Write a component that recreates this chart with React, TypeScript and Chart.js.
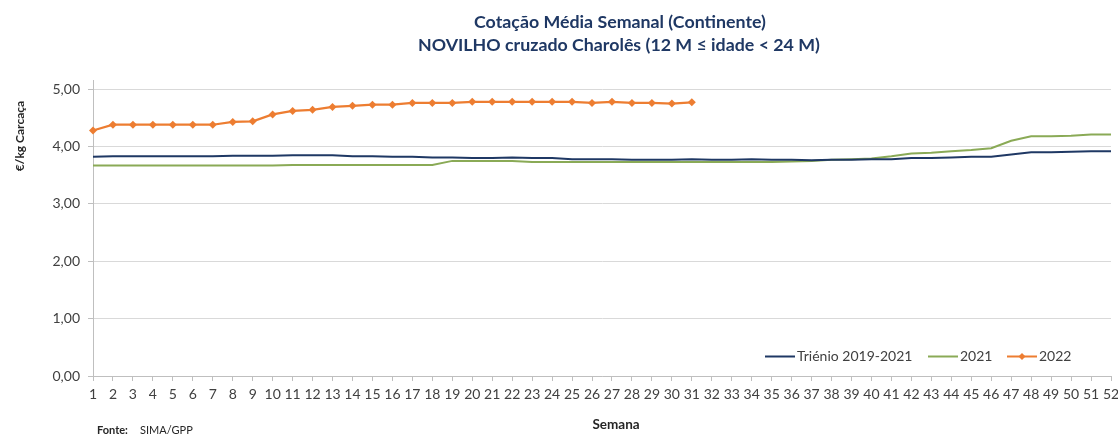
import React, { useEffect, useRef } from "react";
import { Chart, registerables } from "chart.js";

Chart.register(...registerables);

const FONT = "Lato, 'Open Sans', sans-serif";

const weeks = [
  "1", "2", "3", "4", "5", "6", "7", "8", "9", "10",
  "11", "12", "13", "14", "15", "16", "17", "18", "19", "20",
  "21", "22", "23", "24", "25", "26", "27", "28", "29", "30",
  "31", "32", "33", "34", "35", "36", "37", "38", "39", "40",
  "41", "42", "43", "44", "45", "46", "47", "48", "49", "50",
  "51", "52",
];

const trienio = [
  3.82, 3.83, 3.83, 3.83, 3.83, 3.83, 3.83, 3.84, 3.84, 3.84,
  3.85, 3.85, 3.85, 3.83, 3.83, 3.82, 3.82, 3.81, 3.81, 3.80,
  3.80, 3.81, 3.80, 3.80, 3.78, 3.78, 3.78, 3.77, 3.77, 3.77,
  3.78, 3.77, 3.77, 3.78, 3.77, 3.77, 3.76, 3.77, 3.77, 3.78,
  3.78, 3.80, 3.80, 3.81, 3.82, 3.82, 3.86, 3.90, 3.90, 3.91,
  3.92, 3.92,
];

const y2021 = [
  3.67, 3.67, 3.67, 3.67, 3.67, 3.67, 3.67, 3.67, 3.67, 3.67,
  3.68, 3.68, 3.68, 3.68, 3.68, 3.68, 3.68, 3.68, 3.75, 3.75,
  3.75, 3.75, 3.73, 3.73, 3.73, 3.73, 3.73, 3.73, 3.73, 3.73,
  3.73, 3.73, 3.73, 3.73, 3.73, 3.74, 3.75, 3.77, 3.78, 3.79,
  3.83, 3.88, 3.89, 3.92, 3.94, 3.97, 4.10, 4.18, 4.18, 4.19,
  4.21, 4.21,
];

const y2022 = [
  4.28, 4.38, 4.38, 4.38, 4.38, 4.38, 4.38, 4.43, 4.44, 4.56,
  4.62, 4.64, 4.69, 4.71, 4.73, 4.73, 4.76, 4.76, 4.76, 4.78,
  4.78, 4.78, 4.78, 4.78, 4.78, 4.76, 4.78, 4.76, 4.76, 4.75,
  4.77,
];

const seriesNames = ["Triénio 2019-2021", "2021", "2022"];
const titleLines = [
  "Cotação Média Semanal (Continente)",
  "NOVILHO cruzado Charolês (12 M ≤ idade < 24 M)",
];
const yTitle = "€/kg Carcaça";
const xTitle = "Semana";
const sourceLabel = "Fonte:";
const sourceText = "SIMA/GPP";

const NAVY = "#1F3864";
const GREEN = "#8AAA56";
const ORANGE = "#ED7D31";

const decorPlugin = {
  id: "decor",
  afterDraw(chart: any) {
    const ctx = chart.ctx;
    ctx.save();
    // title
    ctx.fillStyle = NAVY;
    ctx.font = `bold 17.8px ${FONT}`;
    ctx.textAlign = "center";
    ctx.textBaseline = "middle";
    ctx.fillText(titleLines[0], 620, 22);
    ctx.fillText(titleLines[1], 619, 45);
    // y-axis title
    ctx.fillStyle = "#262626";
    ctx.font = `bold 12px ${FONT}`;
    ctx.save();
    ctx.translate(20, 136);
    ctx.rotate(-Math.PI / 2);
    ctx.fillText(yTitle, 0, 0);
    ctx.restore();
    // x-axis title
    ctx.font = `bold 13.5px ${FONT}`;
    ctx.fillText(xTitle, 616, 425);
    // source
    ctx.textAlign = "left";
    ctx.font = `bold 11px ${FONT}`;
    ctx.fillText(sourceLabel, 97, 430);
    ctx.font = `11px ${FONT}`;
    ctx.fillText(sourceText, 140, 430);

    // legend inside chart area bottom-right
    const ly = 356.5;
    const items = [
      { x: 765, color: NAVY, marker: false },
      { x: 928, color: GREEN, marker: false },
      { x: 1007, color: ORANGE, marker: true },
    ];
    ctx.font = `14px ${FONT}`;
    ctx.textBaseline = "middle";
    items.forEach((it, i) => {
      ctx.strokeStyle = it.color;
      ctx.lineWidth = 2;
      ctx.beginPath();
      ctx.moveTo(it.x, ly);
      ctx.lineTo(it.x + 30, ly);
      ctx.stroke();
      if (it.marker) {
        const cx = it.x + 15;
        ctx.fillStyle = it.color;
        ctx.beginPath();
        ctx.moveTo(cx, ly - 3.5);
        ctx.lineTo(cx + 3.5, ly);
        ctx.lineTo(cx, ly + 3.5);
        ctx.lineTo(cx - 3.5, ly);
        ctx.closePath();
        ctx.fill();
      }
      ctx.fillStyle = "#404040";
      ctx.fillText(chart.data.datasets[i].label, it.x + 32, ly);
    });
    ctx.restore();
  },
};

export default function App() {
  const ref = useRef<HTMLCanvasElement | null>(null);

  useEffect(() => {
    if (!ref.current) return;
    const chart = new Chart(ref.current, {
      type: "line",
      data: {
        labels: weeks,
        datasets: [
          {
            label: seriesNames[0],
            data: trienio,
            borderColor: NAVY,
            backgroundColor: NAVY,
            borderWidth: 2,
            pointRadius: 0,
            tension: 0,
          },
          {
            label: seriesNames[1],
            data: y2021,
            borderColor: GREEN,
            backgroundColor: GREEN,
            borderWidth: 2,
            pointRadius: 0,
            tension: 0,
          },
          {
            label: seriesNames[2],
            data: y2022,
            borderColor: ORANGE,
            backgroundColor: ORANGE,
            borderWidth: 2.25,
            pointStyle: "rectRot",
            pointRadius: 4,
            pointBorderWidth: 0,
            tension: 0,
          },
        ],
      },
      options: {
        responsive: false,
        animation: false,
        layout: { padding: { left: 0, right: 0, top: 80, bottom: 0 } },
        plugins: {
          legend: { display: false },
          tooltip: { enabled: false },
          title: { display: false },
        },
        scales: {
          x: {
            offset: false,
            grid: {
              display: true,
              drawOnChartArea: false,
              drawTicks: true,
              tickLength: 5,
              color: "#bfbfbf",
            },
            border: { color: "#bfbfbf" },
            ticks: {
              color: "#404040",
              font: { family: FONT, size: 14 },
              padding: 5,
              maxRotation: 0,
              autoSkip: false,
            },
            afterFit: (s: any) => {
              s.height = 58;
              s.paddingRight = 7;
              s.paddingLeft = 0;
            },
          },
          y: {
            min: 0,
            max: 5.16,
            grid: {
              color: "#d9d9d9",
              tickLength: 5,
              tickColor: "#bfbfbf",
            },
            border: { color: "#bfbfbf" },
            ticks: {
              stepSize: 1,
              includeBounds: false,
              color: "#404040",
              font: { family: FONT, size: 14 },
              padding: 8,
              callback: (v: any) => Number(v).toFixed(2).replace(".", ","),
            },
            afterFit: (s: any) => {
              s.width = 93;
              s.paddingTop = 0;
              s.paddingBottom = 0;
            },
          },
        },
      },
      plugins: [decorPlugin],
    });
    return () => chart.destroy();
  }, []);

  return (
    <canvas
      ref={ref}
      width={1118}
      height={434}
      style={{ position: "absolute", left: 0, top: 0, width: 1118, height: 434 }}
    />
  );
}
